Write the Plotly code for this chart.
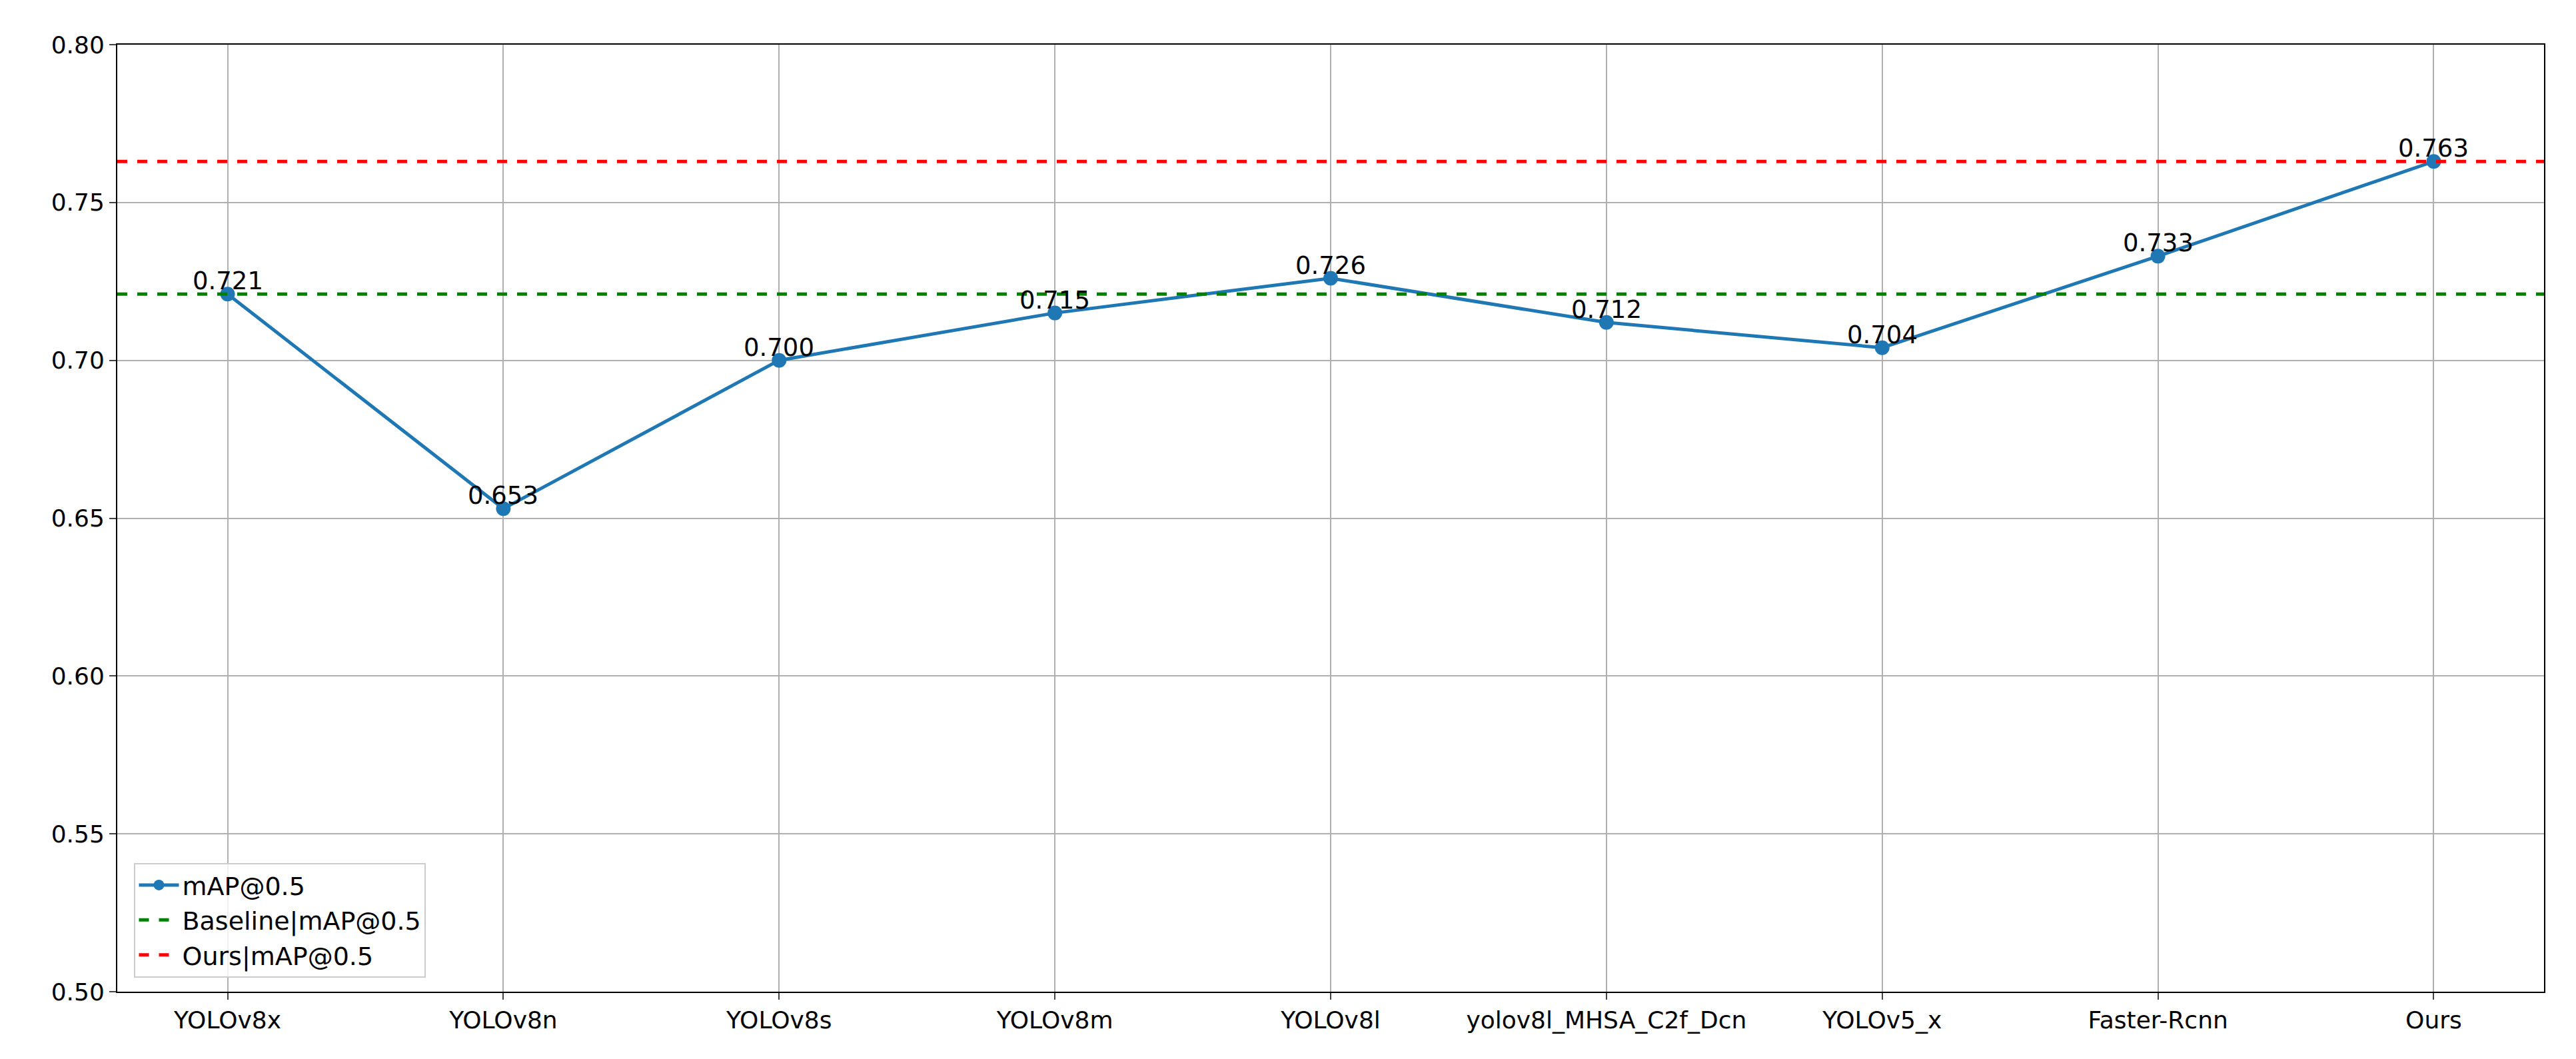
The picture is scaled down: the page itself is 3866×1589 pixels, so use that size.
import plotly.graph_objects as go

models = ["YOLOv8x","YOLOv8n","YOLOv8s","YOLOv8m","YOLOv8l","yolov8l_MHSA_C2f_Dcn","YOLOv5_x","Faster-Rcnn","Ours"]
map50 = [0.721,0.653,0.700,0.715,0.726,0.712,0.704,0.733,0.763]
baseline = 0.721
ours = 0.763
yticks = [0.50,0.55,0.60,0.65,0.70,0.75,0.80]

x = list(range(len(models)))
fig = go.Figure()
fig.add_trace(go.Scatter(x=x, y=map50, mode="lines+markers", name="mAP@0.5",
    line=dict(color="#1f77b4", width=5), marker=dict(size=22, color="#1f77b4")))
fig.add_trace(go.Scatter(x=[-0.4, 8.4], y=[baseline]*2, mode="lines", name="Baseline|mAP@0.5",
    line=dict(color="green", width=5, dash="dash")))
fig.add_trace(go.Scatter(x=[-0.4, 8.4], y=[ours]*2, mode="lines", name="Ours|mAP@0.5",
    line=dict(color="red", width=5, dash="dash")))
for xi, v in zip(x, map50):
    fig.add_annotation(x=xi, y=v, text=f"{v:.3f}", showarrow=False, yanchor="bottom",
                       yshift=-4, font=dict(size=37, color="black"))

fig.update_layout(width=3866, height=1589, plot_bgcolor="white", paper_bgcolor="white",
    margin=dict(l=168, r=56, t=59, b=109),
    font=dict(family="DejaVu Sans", size=36, color="black"),
    legend=dict(x=0.007, y=0.015, xanchor="left", yanchor="bottom", bordercolor="#cccccc",
                borderwidth=2, bgcolor="rgba(255,255,255,0.8)", font=dict(size=38),
                itemwidth=60, tracegroupgap=12),
    showlegend=True)
fig.update_xaxes(range=[-0.4, 8.4], tickvals=x, ticktext=models, showgrid=True, gridcolor="#b0b0b0",
    gridwidth=2, showline=True, linecolor="black", linewidth=2, mirror=True, ticks="outside",
    ticklen=10, tickwidth=2, zeroline=False)
fig.update_yaxes(range=[0.5, 0.8], tickvals=yticks, ticktext=[f"{v:.2f}" for v in yticks],
    showgrid=True, gridcolor="#b0b0b0", gridwidth=2, showline=True, linecolor="black", linewidth=2,
    mirror=True, ticks="outside", ticklen=10, tickwidth=2, zeroline=False)
fig.write_html("out.html")
